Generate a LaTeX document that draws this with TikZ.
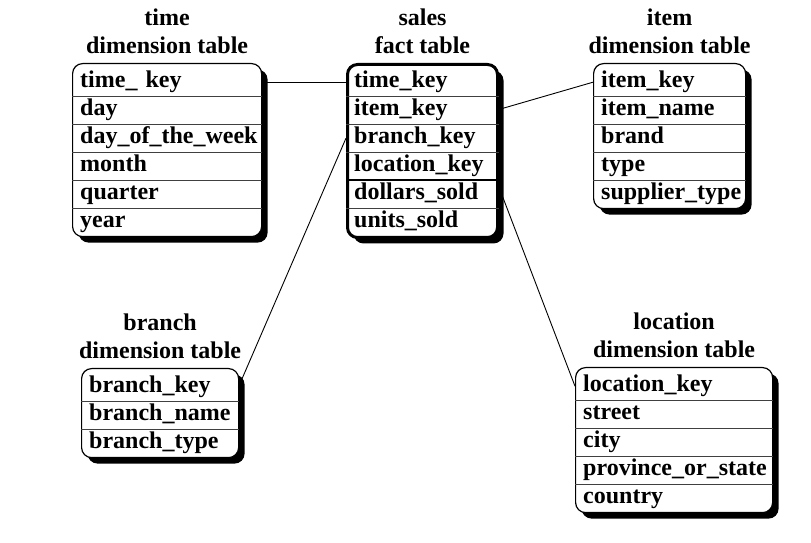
\documentclass[tikz,border=0pt]{standalone}
\usepackage{fontspec}
\setmainfont{Liberation Serif}
\usetikzlibrary{shadows,calc}

\begin{document}
\begin{tikzpicture}[x=1pt, y=1pt,
    tbl/.style={draw, line width=1.2pt, rounded corners=10pt, fill=white, anchor=north west, inner sep=0pt,
        drop shadow={shadow xshift=6pt, shadow yshift=-6pt, fill=black, opacity=1}},
    field/.style={anchor=north west, text width=#1, align=left, minimum height=28pt, inner xsep=8pt, inner ysep=0pt,
        text height=17pt, text depth=6pt, font=\bfseries\fontsize{24}{28}\selectfont},
    title/.style={anchor=south, align=center, inner sep=0pt, font=\bfseries\fontsize{24}{28}\selectfont},
    sep/.style={draw, black!75, line width=0.8pt},
    link/.style={draw, line width=0.9pt}]
    \useasboundingbox (0,0) rectangle (811,543);
    % Time dimension table
    \node[tbl, minimum width=189pt, minimum height=173pt] (time) at (72,480) {};
    \node[title] (timetitle) at ([yshift=9pt]time.north) {time\\dimension table};
    \foreach \f [count=\i] in {time\_ key, day, day\_of\_the\_week, month, quarter, year}
        \node[field=173pt] (time-\i) at ([yshift={-5pt-(\i-1)*28pt}]time.north west) {\f};
    \foreach \i in {2,...,6}
        \draw[sep] (time-\i.north west) -- (time-\i.north west -| time.east);
    % Sales fact table
    \node[tbl, line width=3pt, minimum width=150pt, minimum height=173pt] (sales) at (346,480) {};
    \node[title] (salestitle) at ([yshift=9pt]sales.north) {sales\\fact table};
    \foreach \f [count=\i] in {time\_key, item\_key, branch\_key, location\_key, dollars\_sold, units\_sold}
        \node[field=134pt] (sales-\i) at ([yshift={-5pt-(\i-1)*28pt}]sales.north west) {\f};
    \foreach \i in {2,...,6}
        \draw[sep] (sales-\i.north west) -- (sales-\i.north west -| sales.east);
    \draw[sep, black, line width=1.8pt] (sales-5.north west) -- (sales-5.north west -| sales.east);
    % Item dimension table
    \node[tbl, minimum width=152pt, minimum height=145pt] (item) at (593,480) {};
    \node[title] (itemtitle) at ([yshift=9pt]item.north) {item\\dimension table};
    \foreach \f [count=\i] in {item\_key, item\_name, brand, type, supplier\_type}
        \node[field=136pt] (item-\i) at ([yshift={-5pt-(\i-1)*28pt}]item.north west) {\f};
    \foreach \i in {2,...,5}
        \draw[sep] (item-\i.north west) -- (item-\i.north west -| item.east);
    % Branch dimension table
    \node[tbl, minimum width=157pt, minimum height=89pt] (branch) at (81,175) {};
    \node[title] (branchtitle) at ([yshift=9pt]branch.north) {branch\\dimension table};
    \foreach \f [count=\i] in {branch\_key, branch\_name, branch\_type}
        \node[field=141pt] (branch-\i) at ([yshift={-5pt-(\i-1)*28pt}]branch.north west) {\f};
    \foreach \i in {2,3}
        \draw[sep] (branch-\i.north west) -- (branch-\i.north west -| branch.east);
    % Location dimension table
    \node[tbl, minimum width=197pt, minimum height=145pt] (location) at (575,176) {};
    \node[title] (locationtitle) at ([yshift=9pt]location.north) {location\\dimension table};
    \foreach \f [count=\i] in {location\_key, street, city, province\_or\_state, country}
        \node[field=181pt] (location-\i) at ([yshift={-5pt-(\i-1)*28pt}]location.north west) {\f};
    \foreach \i in {2,...,5}
        \draw[sep] (location-\i.north west) -- (location-\i.north west -| location.east);
    % Links
    \draw[link] (time-1.east) -- (sales-1.west);
    \draw[link] (sales-2.east) -- (item-1.west);
    \draw[link] (sales-3.west) -- (branch-1.east);
    \draw[link] (sales-4.south east) -- (location-1.west);
\end{tikzpicture}
\end{document}
